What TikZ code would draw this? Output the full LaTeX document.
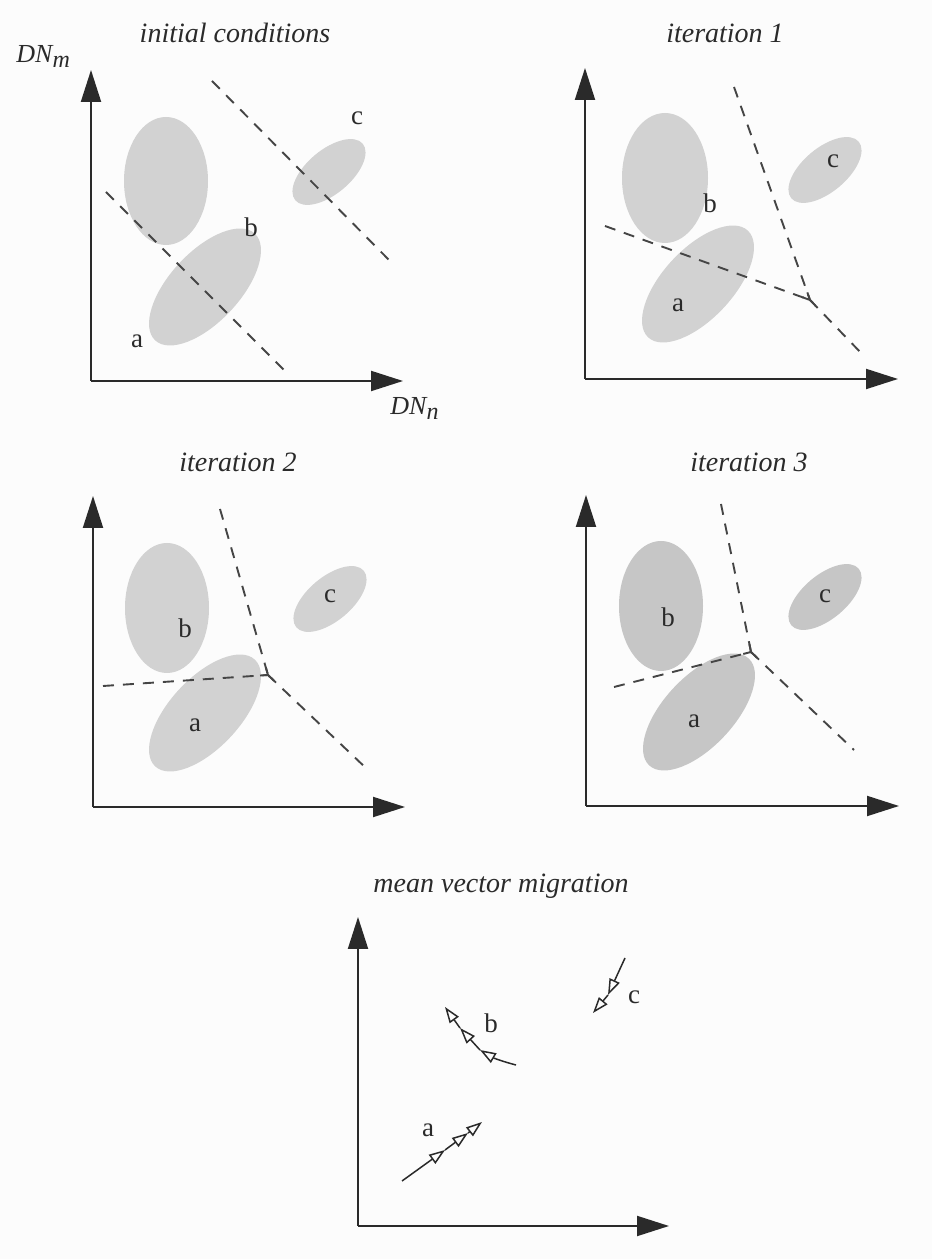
\documentclass[tikz,border=0pt]{standalone}
\usepackage{fontspec}
\setmainfont{Liberation Serif}
\usetikzlibrary{arrows.meta,calc}
\definecolor{ink}{HTML}{2A2A2A}
\definecolor{blob}{HTML}{D2D2D2}
\definecolor{blobdark}{HTML}{C6C6C6}
\definecolor{dashc}{HTML}{454545}
\definecolor{paper}{HTML}{FCFCFC}
\tikzset{
  axis/.style={draw=ink, line width=1pt, -{Triangle[length=16pt,width=10pt]}},
  sep/.style={draw=dashc, line width=0.95pt, dash pattern=on 5.5pt off 4.5pt},
  sepj/.style={draw=dashc, line width=0.95pt},
  ttl/.style={font=\fontsize{14}{16}\selectfont\itshape, text=ink, anchor=base, inner sep=0pt},
  lbl/.style={font=\fontsize{13.5}{15}\selectfont, text=ink, anchor=base, inner sep=0pt},
  axlbl/.style={font=\fontsize{13}{15}\selectfont\itshape, text=ink, anchor=base west, inner sep=0pt},
  mig/.style={draw=ink, line width=0.75pt, -{Triangle[open,length=8pt,width=5.5pt]}},
  blobs/.style={fill=blob},
  blobsd/.style={fill=blobdark}
}
\newcommand{\axsub}[1]{\raisebox{-2.2pt}{\fontsize{12}{14}\selectfont\itshape #1}}
\begin{document}
\begin{tikzpicture}[x=0.5pt,y=0.5pt]
\fill[paper] (0,0) rectangle (932,1259);
\useasboundingbox (0,0) rectangle (932,1259);

% ---------------- Panel 1: initial conditions
\node[ttl] (t1) at (235,1216) {initial conditions};
\node[axlbl] (dnm) at (16,1196) {DN\axsub{m}};
\node[axlbl] (dnn) at (390,844) {DN\axsub{n}};
\coordinate (o1) at (91,878);
\coordinate (y1) at (91,1189);
\coordinate (x1) at (403,878);
\fill[blobs] (166,1078) ellipse [x radius=42, y radius=64];
\fill[blobs] (205,972) ellipse [x radius=73, y radius=35, rotate=47];
\fill[blobs] (329,1087) ellipse [x radius=44, y radius=22, rotate=40];
\draw[axis] (o1) -- (y1);
\draw[axis] (o1) -- (x1);
\coordinate (d1a) at (106,1067);
\coordinate (d1b) at (287,886);
\coordinate (d2a) at (212,1178);
\coordinate (d2b) at (392,996);
\draw[sep] (d1a) -- (d1b);
\draw[sep] (d2a) -- (d2b);
\node[lbl] (la1) at (137,911) {a};
\node[lbl] (lb1) at (251,1022) {b};
\node[lbl] (lc1) at (357,1134) {c};

% ---------------- Panel 2: iteration 1
\node[ttl] (t2) at (725,1216) {iteration 1};
\coordinate (o2) at (585,880);
\coordinate (y2) at (585,1191);
\coordinate (x2) at (898,880);
\fill[blobs] (665,1081) ellipse [x radius=43, y radius=65];
\fill[blobs] (698,975) ellipse [x radius=73, y radius=35, rotate=47];
\fill[blobs] (825,1089) ellipse [x radius=44, y radius=22, rotate=40];
\draw[axis] (o2) -- (y2);
\draw[axis] (o2) -- (x2);
\coordinate (j2) at (810,959);
\coordinate (u2) at (734,1172);
\coordinate (l2) at (605,1033);
\coordinate (r2) at (864,903);
\draw[sep] (u2) -- (j2);
\draw[sep] (l2) -- (j2);
\draw[sep] (j2) -- (r2);
\draw[sepj] ($(j2)!4pt!(u2)$) -- (j2) -- ($(j2)!4pt!(l2)$);
\draw[sepj] (j2) -- ($(j2)!4pt!(r2)$);
\node[lbl] (la2) at (678,947) {a};
\node[lbl] (lb2) at (710,1046) {b};
\node[lbl] (lc2) at (833,1091) {c};

% ---------------- Panel 3: iteration 2
\node[ttl] (t3) at (238,787) {iteration 2};
\coordinate (o3) at (93,452);
\coordinate (y3) at (93,763);
\coordinate (x3) at (405,452);
\fill[blobs] (167,651) ellipse [x radius=42, y radius=65];
\fill[blobs] (205,546) ellipse [x radius=73, y radius=35, rotate=47];
\fill[blobs] (330,660) ellipse [x radius=44, y radius=22, rotate=40];
\draw[axis] (o3) -- (y3);
\draw[axis] (o3) -- (x3);
\coordinate (j3) at (268,584);
\coordinate (u3) at (220,750);
\coordinate (l3) at (103,573);
\coordinate (r3) at (368,489);
\draw[sep] (u3) -- (j3);
\draw[sep] (l3) -- (j3);
\draw[sep] (j3) -- (r3);
\draw[sepj] ($(j3)!4pt!(u3)$) -- (j3) -- ($(j3)!4pt!(l3)$);
\draw[sepj] (j3) -- ($(j3)!4pt!(r3)$);
\node[lbl] (la3) at (195,527) {a};
\node[lbl] (lb3) at (185,621) {b};
\node[lbl] (lc3) at (330,656) {c};

% ---------------- Panel 4: iteration 3
\node[ttl] (t4) at (749,787) {iteration 3};
\coordinate (o4) at (586,453);
\coordinate (y4) at (586,764);
\coordinate (x4) at (899,453);
\fill[blobsd] (661,653) ellipse [x radius=42, y radius=65];
\fill[blobsd] (699,547) ellipse [x radius=73, y radius=35, rotate=47];
\fill[blobsd] (825,662) ellipse [x radius=44, y radius=22, rotate=40];
\draw[axis] (o4) -- (y4);
\draw[axis] (o4) -- (x4);
\coordinate (j4) at (751,607);
\coordinate (u4) at (721,755);
\coordinate (l4) at (614,572);
\coordinate (r4) at (854,509);
\draw[sep] (u4) -- (j4);
\draw[sep] (l4) -- (j4);
\draw[sep] (j4) -- (r4);
\draw[sepj] ($(j4)!4pt!(u4)$) -- (j4) -- ($(j4)!4pt!(l4)$);
\draw[sepj] (j4) -- ($(j4)!4pt!(r4)$);
\node[lbl] (la4) at (694,531) {a};
\node[lbl] (lb4) at (668,632) {b};
\node[lbl] (lc4) at (825,656) {c};

% ---------------- Panel 5: mean vector migration
\node[ttl] (t5) at (501,366) {mean vector migration};
\coordinate (o5) at (358,33);
\coordinate (y5) at (358,342);
\coordinate (x5) at (669,33);
\draw[axis] (o5) -- (y5);
\draw[axis] (o5) -- (x5);
% a
\coordinate (sa) at (402,78);
\coordinate (pa1) at (445,109);
\coordinate (pa2) at (468,126);
\coordinate (pa3) at (482,137);
\draw[mig] (sa) -- (pa1);
\draw[mig] (pa1) -- (pa2);
\draw[mig] (pa2) -- (pa3);
% b
\coordinate (sb) at (516,194);
\coordinate (pb1) at (480,209);
\coordinate (pb2) at (460,231);
\coordinate (pb3) at (445,252);
\draw[mig] (sb) to[bend left=8] (pb1);
\draw[mig] (pb1) -- (pb2);
\draw[mig] (pb2) -- (pb3);
% c
\coordinate (sc) at (625,301);
\coordinate (pc1) at (608,264);
\coordinate (pc2) at (593,246);
\draw[mig] (sc) -- (pc1);
\draw[mig] (pc1) -- (pc2);
\node[lbl] (la5) at (428,122) {a};
\node[lbl] (lb5) at (491,226) {b};
\node[lbl] (lc5) at (634,255) {c};
\end{tikzpicture}
\end{document}
